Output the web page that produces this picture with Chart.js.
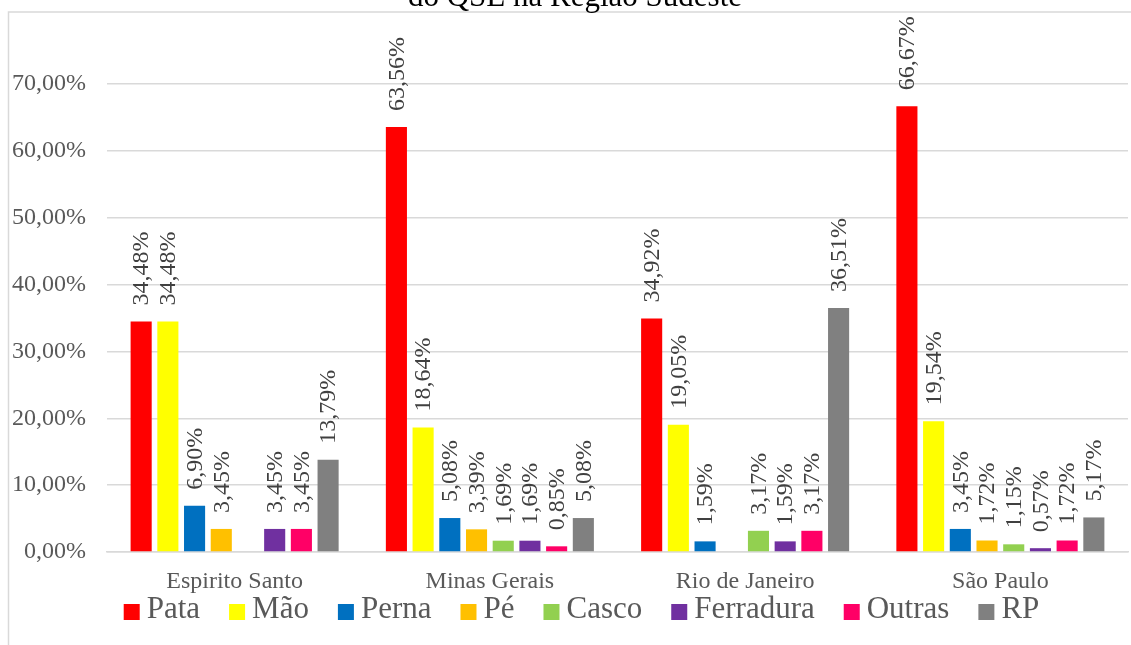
<!DOCTYPE html>
<html>
<head>
<meta charset="utf-8">
<script src="https://cdn.jsdelivr.net/npm/chart.js@4.4.1/dist/chart.umd.min.js"></script>
<style>
  html, body { margin: 0; padding: 0; background: #fff; }
  #wrap { width: 1131px; height: 645px; position: relative; }
</style>
</head>
<body>
<div id="wrap"><canvas id="grafico" width="1131" height="645"></canvas></div>
<script>
// dados
var regioes = ['Espirito Santo', 'Minas Gerais', 'Rio de Janeiro', 'São Paulo'];
var series = ['Pata', 'Mão', 'Perna', 'Pé', 'Casco', 'Ferradura', 'Outras', 'RP'];
var cores = ['#FF0000', '#FFFF00', '#0070C0', '#FFC000', '#92D050', '#7030A0', '#FF0066', '#808080'];
var pata      = [34.48, 63.56, 34.92, 66.67];
var mao       = [34.48, 18.64, 19.05, 19.54];
var perna     = [6.90, 5.08, 1.59, 3.45];
var pe        = [3.45, 3.39, null, 1.72];
var casco     = [null, 1.69, 3.17, 1.15];
var ferradura = [3.45, 1.69, 1.59, 0.57];
var outras    = [3.45, 0.85, 3.17, 1.72];
var rp        = [13.79, 5.08, 36.51, 5.17];
var yTicks = [0, 10, 20, 30, 40, 50, 60, 70];
var titulo = 'do QSE na Região Sudeste';

var valores = [pata, mao, perna, pe, casco, ferradura, outras, rp];
var fonte = 'Liberation Serif, "Times New Roman", serif';

function pct(v) {
    return v.toFixed(2).replace('.', ',') + '%';
}

var datasets = series.map(function(nome, i) {
    return {
        label: nome,
        data: valores[i],
        backgroundColor: cores[i],
        borderWidth: 0,
        categoryPercentage: 0.837,
        barPercentage: 0.79
    };
});

// moldura, título, rótulos e legenda
var extras = {
    id: 'extras',
    beforeDraw: function(chart) {
        var ctx = chart.ctx;
        ctx.save();
        ctx.strokeStyle = '#d9d9d9';
        ctx.lineWidth = 1.5;
        ctx.beginPath();
        ctx.moveTo(8.5, 645);
        ctx.lineTo(8.5, 12);
        ctx.lineTo(1131, 12);
        ctx.stroke();
        ctx.restore();
    },
    afterDatasetsDraw: function(chart) {
        var ctx = chart.ctx;
        ctx.save();
        ctx.font = '24px ' + fonte;
        ctx.fillStyle = '#404040';
        ctx.textAlign = 'left';
        ctx.textBaseline = 'middle';
        chart.data.datasets.forEach(function(ds, i) {
            var meta = chart.getDatasetMeta(i);
            meta.data.forEach(function(bar, j) {
                var v = ds.data[j];
                if (v === null || v === undefined) return;
                ctx.save();
                ctx.translate(bar.x + 1, bar.y - 16);
                ctx.rotate(-Math.PI / 2);
                ctx.fillText(pct(v), 0, 0);
                ctx.restore();
            });
        });
        ctx.restore();
    },
    afterDraw: function(chart) {
        var ctx = chart.ctx;
        ctx.save();
        // título (cortado no topo)
        ctx.font = '31px ' + fonte;
        ctx.fillStyle = '#000000';
        ctx.textAlign = 'center';
        ctx.textBaseline = 'alphabetic';
        ctx.fillText(titulo, 575, 6);

        // legenda
        ctx.font = '31px ' + fonte;
        var box = 16, gapTexto = 7, gapItem = 29;
        var larguras = chart.data.datasets.map(function(ds) {
            return box + gapTexto + ctx.measureText(ds.label).width;
        });
        var total = larguras.reduce(function(a, b) { return a + b; }, 0) + gapItem * (larguras.length - 1);
        var x = 581.5 - total / 2;
        var yc = 610;
        ctx.textAlign = 'left';
        ctx.textBaseline = 'middle';
        chart.data.datasets.forEach(function(ds, i) {
            ctx.fillStyle = ds.backgroundColor;
            ctx.fillRect(x, yc - box / 2 + 2, box, box);
            ctx.fillStyle = '#595959';
            ctx.fillText(ds.label, x + box + gapTexto, yc);
            x += larguras[i] + gapItem;
        });
        ctx.restore();
    }
};

var ctx = document.getElementById('grafico').getContext('2d');
var grafico = new Chart(ctx, {
    type: 'bar',
    data: {
        labels: regioes,
        datasets: datasets
    },
    options: {
        responsive: false,
        animation: false,
        layout: {
            padding: { top: 84, right: 3, bottom: 48, left: 0 }
        },
        plugins: {
            legend: { display: false },
            title: { display: false },
            tooltip: { enabled: false }
        },
        scales: {
            x: {
                grid: { display: false, drawTicks: false },
                border: { display: true, color: '#d9d9d9', width: 1.5 },
                ticks: {
                    color: '#595959',
                    font: { family: fonte, size: 24 },
                    padding: 15,
                    maxRotation: 0
                },
                afterFit: function(scale) { scale.height = 45; }
            },
            y: {
                min: 0,
                max: 70,
                afterBuildTicks: function(scale) {
                    scale.ticks = yTicks.map(function(v) { return { value: v }; });
                },
                grid: { color: '#d9d9d9', lineWidth: 1.5, drawTicks: false },
                border: { display: false },
                ticks: {
                    color: '#595959',
                    font: { family: fonte, size: 24 },
                    padding: 21,
                    callback: function(v) { return pct(v); }
                },
                afterFit: function(scale) { scale.width = 107; }
            }
        }
    },
    plugins: [extras]
});
</script>
</body>
</html>
